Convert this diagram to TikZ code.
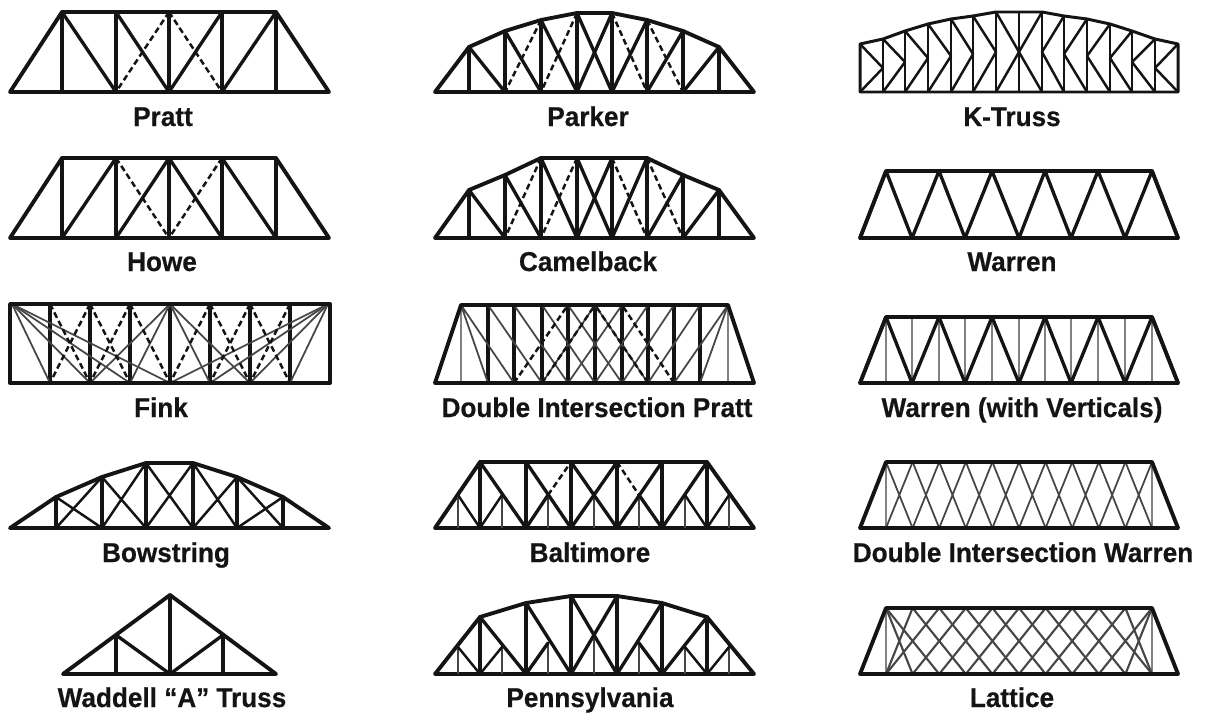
\documentclass[tikz,border=0pt]{standalone}
\usepackage{fontspec}
\setmainfont[FakeStretch=0.96,BoldFeatures={FakeBold=0.5}]{Liberation Sans}
\usepackage{xcolor}
\definecolor{DG}{RGB}{20,20,20}
\definecolor{MG}{RGB}{70,70,70}
\definecolor{LG}{RGB}{130,130,130}
\tikzset{
  chord/.style={DG, line width=2.2pt, line cap=round, line join=round},
  web/.style={DG, line width=1.9pt, line cap=round, line join=round},
  brace/.style={DG, line width=1.4pt, dash pattern=on 3.4pt off 2pt},
  sub/.style={DG, line width=1.4pt, line cap=round, line join=round},
  tie/.style={MG, line width=1pt},
  hanger/.style={LG, line width=1.1pt},
  title/.style={anchor=base, font=\bfseries\fontsize{15.5}{15.5}\selectfont, text=DG}
}
\begin{document}
\begin{tikzpicture}[x=0.02cm, y=-0.02cm]
\useasboundingbox[fill=white] (0,0) rectangle (1206,717);

% first column
\draw[chord] (10,92) -- (62,12) -- (276,12) -- (329,92) -- cycle;
\foreach \x in {62,116,169,222,276} {\draw[web] (\x,12) -- (\x,92);}
\draw[web] (62,12) -- (116,92) (116,12) -- (169,92) (222,12) -- (169,92) (276,12) -- (222,92);
\draw[brace] (169,12) -- (116,92) (169,12) -- (222,92);
\node[title] (pratt) at (163,126) {Pratt};

\draw[chord] (10,238) -- (62,158) -- (276,158) -- (329,238) -- cycle;
\foreach \x in {62,116,169,222,276} {\draw[web] (\x,158) -- (\x,238);}
\draw[web] (116,158) -- (62,238) (169,158) -- (116,238) (169,158) -- (222,238) (222,158) -- (276,238);
\draw[brace] (116,158) -- (169,238) (222,158) -- (169,238);
\node[title] (howe) at (162,271) {Howe};

\foreach \x in {50,90,130,170,210,250,290} {\draw[web] (\x,304) -- (\x,383);}
\foreach \x in {50,90,130,170} {\draw[tie] (12,304) -- (\x,383);}
\foreach \x in {170,210,250,290} {\draw[tie] (328,304) -- (\x,383);}
\foreach \x in {90,130,210,250} {\draw[tie] (170,304) -- (\x,383);}
\draw[brace] (50,304) -- (90,383) (90,304) -- (50,383) (90,304) -- (130,383) (130,304) -- (90,383);
\draw[brace] (130,304) -- (170,383) (210,304) -- (170,383);
\draw[brace] (210,304) -- (250,383) (250,304) -- (210,383) (250,304) -- (290,383) (290,304) -- (250,383);
\draw[chord] (10,304) rectangle (330,383);
\node[title] (fink) at (161,417) {Fink};

\draw[chord] (10,528) -- (56,497) -- (102,477) -- (146,463) -- (193,463) -- (237,477) -- (283,497) -- (329,528) -- cycle;
\foreach \x/\y in {56/497,102/477,146/463,193/463,237/477,283/497} {\draw[web] (\x,\y) -- (\x,528);}
\draw[sub] (56,497) -- (102,528) (56,528) -- (102,477) (102,477) -- (146,528) (102,528) -- (146,463);
\draw[sub] (146,463) -- (193,528) (146,528) -- (193,463) (193,463) -- (237,528) (193,528) -- (237,477);
\draw[sub] (237,477) -- (283,528) (237,528) -- (283,497);
\node[title] (bowstring) at (166,562) {Bowstring};

\draw[chord] (63,674) -- (170,595) -- (276,674) -- cycle;
\draw[web] (170,595) -- (170,674) (116,635) -- (116,674) (223,635) -- (223,674);
\draw[web] (116,635) -- (170,674) (223,635) -- (170,674);
\node[title] (waddell) at (172,707) {Waddell ``A'' Truss};

% second column
\draw[chord] (435,92) -- (469,47) -- (505,31) -- (541,20) -- (577,13) -- (612,13) -- (647,20) -- (683,31) -- (719,47) -- (754,92) -- cycle;
\foreach \x/\y in {469/47,505/31,541/20,577/13,612/13,647/20,683/31,719/47} {\draw[web] (\x,\y) -- (\x,92);}
\draw[web] (469,47) -- (505,92) (505,31) -- (541,92) (541,20) -- (577,92) (577,13) -- (612,92);
\draw[web] (612,13) -- (577,92) (647,20) -- (612,92) (683,31) -- (647,92) (719,47) -- (683,92);
\draw[brace] (541,20) -- (505,92) (577,13) -- (541,92) (612,13) -- (647,92) (647,20) -- (683,92);
\node[title] (parker) at (588,126) {Parker};

\draw[chord] (435,238) -- (469,190) -- (505,175) -- (541,158) -- (647,158) -- (683,175) -- (719,190) -- (754,238) -- cycle;
\foreach \x/\y in {469/190,505/175,541/158,577/158,612/158,647/158,683/175,719/190} {\draw[web] (\x,\y) -- (\x,238);}
\draw[web] (469,190) -- (505,238) (505,175) -- (541,238) (541,158) -- (577,238) (577,158) -- (612,238);
\draw[web] (612,158) -- (577,238) (647,158) -- (612,238) (683,175) -- (647,238) (719,190) -- (683,238);
\draw[brace] (541,158) -- (505,238) (577,158) -- (541,238) (612,158) -- (647,238) (647,158) -- (683,238);
\node[title] (camelback) at (588,271) {Camelback};

\draw[hanger] (461,305) -- (461,383) (728,305) -- (728,383);
\foreach \x in {488,514,542,568,595,622,648,674,700} {\draw[web] (\x,305) -- (\x,383);}
\draw[tie] (461,305) -- (488,383) (461,305) -- (514,383) (488,305) -- (542,383) (514,305) -- (568,383);
\draw[tie] (542,305) -- (595,383) (568,305) -- (622,383) (595,305) -- (648,383);
\draw[tie] (728,305) -- (700,383) (728,305) -- (674,383) (700,305) -- (648,383) (674,305) -- (622,383);
\draw[tie] (648,305) -- (595,383) (622,305) -- (568,383) (595,305) -- (542,383);
\draw[brace] (514,383) -- (568,305) (542,383) -- (595,305) (674,383) -- (622,305) (648,383) -- (595,305);
\draw[chord] (435,383) -- (461,305) -- (728,305) -- (754,383) -- cycle;
\node[title] (dipratt) at (597,417) {Double Intersection Pratt};

\draw[chord] (435,528) -- (480,462) -- (707,462) -- (754,528) -- cycle;
\foreach \x in {480,526,571,617,662,707} {\draw[web] (\x,462) -- (\x,528);}
\foreach \x in {458,502,548,594,639,685,729} {\draw[hanger, MG] (\x,495) -- (\x,528);}
\draw[web] (480,462) -- (526,528) (526,462) -- (571,528) (571,462) -- (617,528);
\draw[web] (571,528) -- (617,462) (662,462) -- (617,528) (662,528) -- (707,462);
\draw[web] (526,528) -- (548,495) (639,495) -- (662,528);
\draw[brace] (548,495) -- (571,462) (617,462) -- (639,495);
\draw[sub] (458,495) -- (480,528) -- (502,495) (685,495) -- (707,528) -- (729,495);
\node[title] (baltimore) at (590,562) {Baltimore};

\draw[chord] (435,674) -- (480,617) -- (526,603) -- (571,596) -- (617,596) -- (662,603) -- (707,617) -- (754,674) -- cycle;
\foreach \x/\y in {480/617,526/603,571/596,617/596,662/603,707/617} {\draw[web] (\x,\y) -- (\x,674);}
\foreach \x/\y in {458/647,502/647,548/643,594/639,639/643,685/647,729/647} {\draw[hanger, MG] (\x,\y) -- (\x,674);}
\draw[web] (480,617) -- (526,674) (526,603) -- (571,674) (571,596) -- (617,674) (617,596) -- (571,674);
\draw[web] (662,603) -- (617,674) (707,617) -- (662,674);
\draw[web] (526,674) -- (548,643) (639,643) -- (662,674);
\draw[sub] (458,647) -- (480,674) -- (502,647) (685,647) -- (707,674) -- (729,647);
\node[title] (pennsylvania) at (590,707) {Pennsylvania};

% third column
\foreach \x/\y in {883/39,905/31,928/24,951/19,973/16,996/12,1019/12,1042/12,1064/16,1087/19,1110/24,1132/31,1155/39} {\draw[sub] (\x,\y) -- (\x,92);}
\draw[sub] (860,44) -- (883,68) -- (860,92) (883,39) -- (905,62) -- (883,92) (905,31) -- (928,58) -- (905,92);
\draw[sub] (928,24) -- (951,56) -- (928,92) (951,19) -- (973,54) -- (951,92) (973,16) -- (996,52) -- (973,92);
\draw[sub] (996,12) -- (1019,52) -- (996,92) (1042,12) -- (1019,52) -- (1042,92);
\draw[sub] (1064,16) -- (1042,52) -- (1064,92) (1087,19) -- (1064,54) -- (1087,92) (1110,24) -- (1087,56) -- (1110,92);
\draw[sub] (1132,31) -- (1110,58) -- (1132,92) (1155,39) -- (1132,62) -- (1155,92) (1178,44) -- (1155,68) -- (1178,92);
\draw[chord, line width=1.7pt] (860,92) -- (860,44) -- (883,39) -- (905,31) -- (928,24) -- (951,19) -- (973,16) -- (996,12) -- (1042,12) -- (1064,16) -- (1087,19) -- (1110,24) -- (1132,31) -- (1155,39) -- (1178,44) -- (1178,92) -- cycle;
\node[title] (ktruss) at (1012,126) {K-Truss};

\draw[web] (860,238) -- (886,171) -- (912,238) -- (939,171) -- (965,238) -- (992,171) -- (1019,238) -- (1045,171) -- (1071,238) -- (1098,171) -- (1125,238) -- (1152,171) -- (1178,238);
\draw[chord] (860,238) -- (886,171) -- (1152,171) -- (1178,238) -- cycle;
\node[title] (warren) at (1012,271) {Warren};

\foreach \x in {886,912,939,965,992,1019,1045,1071,1098,1125,1152} {\draw[hanger] (\x,317) -- (\x,383);}
\draw[web] (860,383) -- (886,317) -- (912,383) -- (939,317) -- (965,383) -- (992,317) -- (1019,383) -- (1045,317) -- (1071,383) -- (1098,317) -- (1125,383) -- (1152,317) -- (1178,383);
\draw[chord] (860,383) -- (886,317) -- (1152,317) -- (1178,383) -- cycle;
\node[title] (warrenv) at (1022,417) {Warren (with Verticals)};

\draw[hanger] (886,462) -- (886,528) (1152,462) -- (1152,528);
\foreach \k [evaluate=\k as \xa using 886+26.6*\k, evaluate=\k as \xb using 886+26.6*(\k+1)] in {0,...,9} {
  \draw[tie] (\xa,462) -- (\xb,528) (\xb,462) -- (\xa,528);
}
\draw[chord] (860,528) -- (886,462) -- (1152,462) -- (1178,528) -- cycle;
\node[title] (diwarren) at (1023,562) {Double Intersection Warren};

\draw[hanger] (886,608) -- (886,674) (1152,608) -- (1152,674);
\foreach \k [evaluate=\k as \xa using 886+26.6*\k, evaluate=\k as \xb using 886+26.6*(\k+2)] in {0,...,8} {
  \draw[tie, line width=1.2pt] (\xa,608) -- (\xb,674) (\xb,608) -- (\xa,674);
}
\draw[tie, line width=1.2pt] (886,608) -- (912.6,674) (912.6,608) -- (886,674) (1152,608) -- (1125.4,674) (1125.4,608) -- (1152,674);
\draw[chord] (860,674) -- (886,608) -- (1152,608) -- (1178,674) -- cycle;
\node[title] (lattice) at (1012,707) {Lattice};
\end{tikzpicture}
\end{document}
